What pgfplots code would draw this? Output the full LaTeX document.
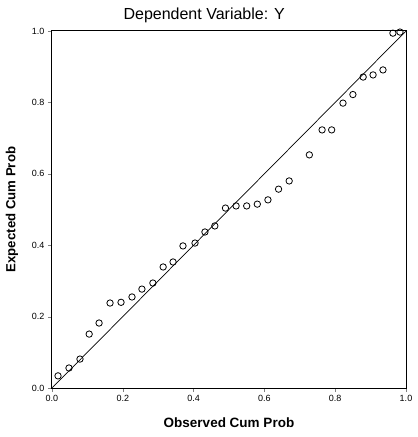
\documentclass[border=0pt]{standalone}
\usepackage{pgfplots}
\pgfplotsset{compat=1.18}
\usepackage{fontspec}
\setmainfont{Liberation Sans}
\begin{document}
\begin{tikzpicture}
\useasboundingbox (-52pt,-49pt) rectangle (366pt,388pt);
\begin{axis}[
  at={(0,0)}, anchor=south west,
  scale only axis, width=354pt, height=357pt,
  xmin=0, xmax=1, ymin=0, ymax=1,
  xtick={0,0.2,0.4,0.6,0.8,1.0},
  ytick={0,0.2,0.4,0.6,0.8,1.0},
  xticklabels={0.0,0.2,0.4,0.6,0.8,1.0},
  yticklabels={0.0,0.2,0.4,0.6,0.8,1.0},
  tick align=outside, tick pos=left,
  major tick length=4pt,
  /pgf/number format/assume math mode=true,
  tick label style={font=\fontsize{9}{10}\selectfont},
  axis line style={line width=1pt},
  title={Dependent Variable: Y},
  title style={at={(axis description cs:0.43,1.027)}, anchor=center, font=\fontsize{16}{18}\selectfont},
  xlabel={Observed Cum Prob},
  ylabel={Expected Cum Prob},
  xlabel style={at={(axis description cs:0.5,-0.098)}, anchor=center, font=\bfseries\fontsize{13.5}{15}\selectfont},
  ylabel style={at={(axis description cs:-0.113,0.5)}, anchor=center, font=\bfseries\fontsize{13.2}{15}\selectfont},
  clip=false,
]
\addplot[black, line width=0.7pt] coordinates {(0,0) (1,1)};
\addplot[only marks, mark=o, mark size=3.2pt, black, mark options={line width=0.8pt}] coordinates {
(0.017,0.034) (0.048,0.056) (0.079,0.081) (0.105,0.151) (0.133,0.182)
(0.164,0.238) (0.195,0.240) (0.226,0.255) (0.254,0.277) (0.285,0.294)
(0.314,0.339) (0.342,0.353) (0.370,0.398) (0.404,0.406) (0.432,0.437)
(0.460,0.454) (0.490,0.504) (0.520,0.510) (0.550,0.510) (0.580,0.515)
(0.610,0.527) (0.640,0.557) (0.670,0.580) (0.727,0.653) (0.763,0.723)
(0.790,0.723) (0.822,0.798) (0.850,0.822) (0.879,0.871) (0.907,0.877)
(0.935,0.891) (0.963,0.994) (0.983,0.997)
};
\end{axis}
\end{tikzpicture}
\end{document}
